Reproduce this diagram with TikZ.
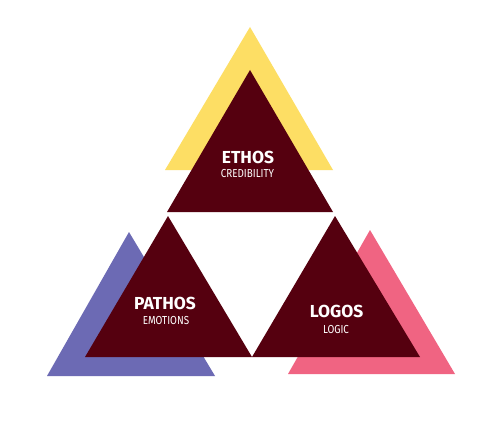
\documentclass[tikz,border=0pt]{standalone}
\usepackage{fontspec}
\setmainfont{Fira Sans}
\newfontfamily\subfont[FakeStretch=0.85]{Fira Sans}
\definecolor{ethosY}{RGB}{253,222,100}
\definecolor{pathosP}{RGB}{108,106,180}
\definecolor{logosP}{RGB}{240,100,130}
\definecolor{maroon}{RGB}{85,0,15}
\tikzset{
  titletext/.style={text=white, font=\fontsize{9.9}{10}\selectfont\bfseries, inner sep=0pt, anchor=center},
  subtext/.style={text=white, font=\subfont\fontsize{6.6}{7}\selectfont, inner sep=0pt, anchor=center},
}
\begin{document}
\begin{tikzpicture}[x=0.02cm,y=-0.02cm]
\useasboundingbox[fill=white] (0,0) rectangle (500,429);
% coloured back triangles
\fill[ethosY] (250,27) -- (333,170) -- (165,170) -- cycle;
\fill[pathosP] (129,232) -- (215,376) -- (47,376) -- cycle;
\fill[logosP] (370,230) -- (455,374) -- (288,374) -- cycle;
% maroon triangles
\fill[maroon] (250,70) -- (333,212) -- (167,212) -- cycle;
\fill[maroon] (168,216) -- (252,357) -- (85,357) -- cycle;
\fill[maroon] (335,216) -- (420,357) -- (252,357) -- cycle;
% labels
\node[titletext] (ethos) at (248,157.5) {ETHOS};
\node[subtext] (cred) at (247.5,173.5) {CREDIBILITY};
\node[titletext] (pathos) at (165,303.5) {PATHOS};
\node[subtext] (emo) at (166,320.5) {EMOTIONS};
\node[titletext] (logos) at (336.5,311) {LOGOS};
\node[subtext] (logic) at (336,329.5) {LOGIC};
\end{tikzpicture}
\end{document}
